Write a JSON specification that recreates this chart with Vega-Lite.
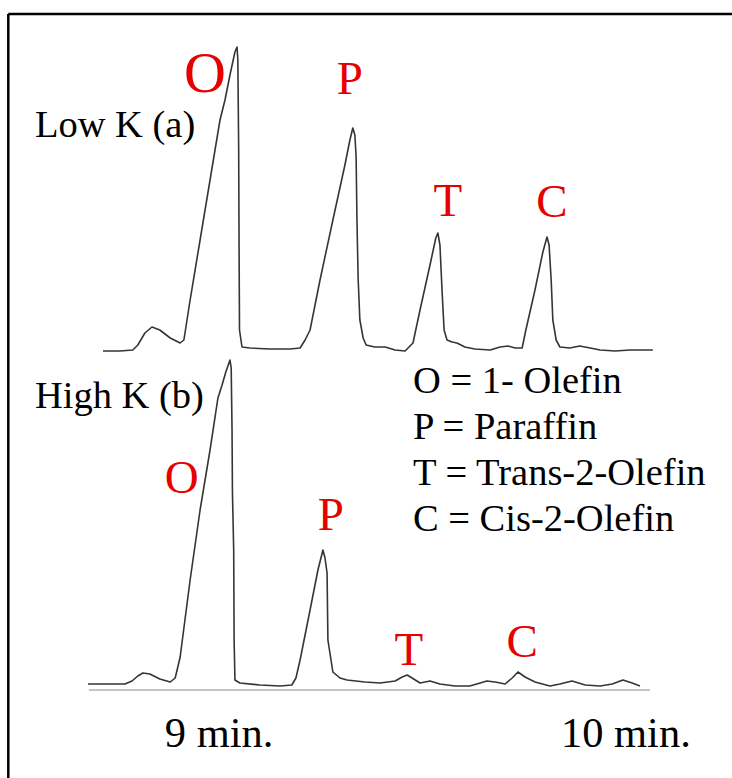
{
  "$schema": "https://vega.github.io/schema/vega-lite/v6.json",
  "width": 732,
  "height": 778,
  "autosize": "none",
  "padding": 0,
  "background": "white",
  "view": {"stroke": null},
  "datasets": {
    "traces": [
      {"run":"a","t":8.718,"v":427},{"run":"a","t":8.759,"v":427},{"run":"a","t":8.790,"v":428},{"run":"a","t":8.802,"v":433},
      {"run":"a","t":8.819,"v":445},{"run":"a","t":8.836,"v":451},{"run":"a","t":8.855,"v":448},{"run":"a","t":8.880,"v":440},
      {"run":"a","t":8.904,"v":435},{"run":"a","t":8.913,"v":438},{"run":"a","t":8.928,"v":478},{"run":"a","t":8.952,"v":538},
      {"run":"a","t":8.976,"v":598},{"run":"a","t":9.000,"v":658},{"run":"a","t":9.012,"v":678},{"run":"a","t":9.024,"v":703},
      {"run":"a","t":9.036,"v":726},{"run":"a","t":9.041,"v":731},{"run":"a","t":9.043,"v":718},{"run":"a","t":9.045,"v":628},
      {"run":"a","t":9.046,"v":528},{"run":"a","t":9.047,"v":448},{"run":"a","t":9.053,"v":431},{"run":"a","t":9.072,"v":430},
      {"run":"a","t":9.120,"v":429},{"run":"a","t":9.169,"v":429},{"run":"a","t":9.193,"v":430},{"run":"a","t":9.205,"v":438},
      {"run":"a","t":9.217,"v":448},{"run":"a","t":9.241,"v":498},{"run":"a","t":9.272,"v":558},{"run":"a","t":9.301,"v":613},
      {"run":"a","t":9.313,"v":638},{"run":"a","t":9.320,"v":650},{"run":"a","t":9.325,"v":643},{"run":"a","t":9.328,"v":621},
      {"run":"a","t":9.330,"v":558},{"run":"a","t":9.333,"v":498},{"run":"a","t":9.337,"v":458},{"run":"a","t":9.345,"v":440},
      {"run":"a","t":9.352,"v":433},{"run":"a","t":9.373,"v":431},{"run":"a","t":9.398,"v":431},{"run":"a","t":9.422,"v":428},
      {"run":"a","t":9.446,"v":427},{"run":"a","t":9.465,"v":435},{"run":"a","t":9.482,"v":468},{"run":"a","t":9.506,"v":513},
      {"run":"a","t":9.520,"v":540},{"run":"a","t":9.525,"v":545},{"run":"a","t":9.530,"v":533},{"run":"a","t":9.535,"v":488},
      {"run":"a","t":9.540,"v":448},{"run":"a","t":9.547,"v":438},{"run":"a","t":9.559,"v":436},{"run":"a","t":9.571,"v":435},
      {"run":"a","t":9.590,"v":431},{"run":"a","t":9.614,"v":429},{"run":"a","t":9.651,"v":428},{"run":"a","t":9.675,"v":431},
      {"run":"a","t":9.694,"v":432},{"run":"a","t":9.711,"v":430},{"run":"a","t":9.728,"v":430},{"run":"a","t":9.737,"v":448},
      {"run":"a","t":9.759,"v":488},{"run":"a","t":9.778,"v":526},{"run":"a","t":9.788,"v":541},{"run":"a","t":9.793,"v":533},
      {"run":"a","t":9.798,"v":498},{"run":"a","t":9.802,"v":458},{"run":"a","t":9.810,"v":438},{"run":"a","t":9.819,"v":431},
      {"run":"a","t":9.843,"v":430},{"run":"a","t":9.867,"v":432},{"run":"a","t":9.892,"v":430},{"run":"a","t":9.916,"v":428},
      {"run":"a","t":9.952,"v":427},{"run":"a","t":9.988,"v":428},{"run":"a","t":10.012,"v":428},{"run":"a","t":10.043,"v":428},

      {"run":"b","t":8.682,"v":94},{"run":"b","t":8.711,"v":94},{"run":"b","t":8.771,"v":94},{"run":"b","t":8.788,"v":97},
      {"run":"b","t":8.802,"v":102},{"run":"b","t":8.814,"v":105},{"run":"b","t":8.831,"v":104},{"run":"b","t":8.855,"v":99},
      {"run":"b","t":8.880,"v":96},{"run":"b","t":8.892,"v":100},{"run":"b","t":8.904,"v":121},{"run":"b","t":8.928,"v":198},
      {"run":"b","t":8.952,"v":268},{"run":"b","t":8.976,"v":328},{"run":"b","t":8.995,"v":380},{"run":"b","t":9.005,"v":393},
      {"run":"b","t":9.014,"v":406},{"run":"b","t":9.024,"v":418},{"run":"b","t":9.027,"v":410},{"run":"b","t":9.029,"v":348},
      {"run":"b","t":9.030,"v":285},{"run":"b","t":9.033,"v":228},{"run":"b","t":9.034,"v":138},{"run":"b","t":9.036,"v":98},
      {"run":"b","t":9.048,"v":95},{"run":"b","t":9.096,"v":93},{"run":"b","t":9.145,"v":92},{"run":"b","t":9.173,"v":93},
      {"run":"b","t":9.183,"v":100},{"run":"b","t":9.193,"v":118},{"run":"b","t":9.217,"v":168},{"run":"b","t":9.236,"v":208},
      {"run":"b","t":9.248,"v":228},{"run":"b","t":9.253,"v":220},{"run":"b","t":9.258,"v":205},{"run":"b","t":9.260,"v":138},
      {"run":"b","t":9.272,"v":106},{"run":"b","t":9.289,"v":100},{"run":"b","t":9.306,"v":98},{"run":"b","t":9.349,"v":96},
      {"run":"b","t":9.386,"v":95},{"run":"b","t":9.422,"v":97},{"run":"b","t":9.439,"v":101},{"run":"b","t":9.451,"v":103},
      {"run":"b","t":9.463,"v":100},{"run":"b","t":9.482,"v":95},{"run":"b","t":9.506,"v":97},{"run":"b","t":9.530,"v":94},
      {"run":"b","t":9.566,"v":92},{"run":"b","t":9.602,"v":92},{"run":"b","t":9.627,"v":95},{"run":"b","t":9.643,"v":97},
      {"run":"b","t":9.663,"v":96},{"run":"b","t":9.687,"v":94},{"run":"b","t":9.704,"v":100},{"run":"b","t":9.718,"v":106},
      {"run":"b","t":9.735,"v":101},{"run":"b","t":9.759,"v":96},{"run":"b","t":9.795,"v":92},{"run":"b","t":9.819,"v":94},
      {"run":"b","t":9.848,"v":97},{"run":"b","t":9.880,"v":93},{"run":"b","t":9.916,"v":92},{"run":"b","t":9.945,"v":94},
      {"run":"b","t":9.971,"v":98},{"run":"b","t":9.993,"v":95},{"run":"b","t":10.012,"v":92}
    ],
    "ticks": [
      {"t":8.7333},{"t":8.8},{"t":8.8667},{"t":8.9333},{"t":9.0},{"t":9.0667},{"t":9.1333},{"t":9.2},{"t":9.2667},{"t":9.3333},
      {"t":9.4},{"t":9.4667},{"t":9.5333},{"t":9.6},{"t":9.6667},{"t":9.7333},{"t":9.8},{"t":9.8667},{"t":9.9333},{"t":10.0}
    ],
    "labels": [
      {"text":"Low K (a)","kind":"run","run":"a","t":8.554,"v":641},
      {"text":"High K (b)","kind":"run","run":"b","t":8.554,"v":370},
      {"text":"O = 1- Olefin","kind":"key","run":"","t":9.465,"v":385},
      {"text":"P = Paraffin","kind":"key","run":"","t":9.465,"v":339},
      {"text":"T = Trans-2-Olefin","kind":"key","run":"","t":9.465,"v":293},
      {"text":"C = Cis-2-Olefin","kind":"key","run":"","t":9.465,"v":247},
      {"text":"9 min.","kind":"time","run":"","t":8.998,"v":31},
      {"text":"10 min.","kind":"time","run":"","t":9.978,"v":31},
      {"text":"O","kind":"peak","run":"a","t":8.964,"v":686},
      {"text":"P","kind":"peak","run":"a","t":9.313,"v":684},
      {"text":"T","kind":"peak","run":"a","t":9.549,"v":562},
      {"text":"C","kind":"peak","run":"a","t":9.800,"v":561},
      {"text":"O","kind":"peak","run":"b","t":8.908,"v":285},
      {"text":"P","kind":"peak","run":"b","t":9.267,"v":248},
      {"text":"T","kind":"peak","run":"b","t":9.455,"v":113},
      {"text":"C","kind":"peak","run":"b","t":9.728,"v":121}
    ]
  },
  "encoding": {
    "x": {"field": "t", "type": "quantitative", "axis": null,
          "scale": {"domain": [8.46988, 10.23373], "nice": false, "zero": false}},
    "y": {"field": "v", "type": "quantitative", "axis": null,
          "scale": {"domain": [0, 778], "nice": false, "zero": false}}
  },
  "layer": [
    {
      "data": {"values": [{"t": 8.4899, "v": 0, "v2": 764}]},
      "mark": {"type": "rule", "color": "black", "strokeWidth": 2.5},
      "encoding": {"y2": {"field": "v2"}}
    },
    {
      "data": {"values": [{"t": 8.4899, "t2": 10.2337, "v": 764}]},
      "mark": {"type": "rule", "color": "black", "strokeWidth": 2.5},
      "encoding": {"x2": {"field": "t2"}}
    },
    {
      "data": {"values": [{"t": 8.684, "t2": 10.036, "v": 88}]},
      "mark": {"type": "rule", "color": "#c4c4c4", "strokeWidth": 2.2},
      "encoding": {"x2": {"field": "t2"}}
    },
    {
      "data": {"name": "ticks"},
      "mark": {"type": "rule", "color": "#9a9a9a", "strokeWidth": 1},
      "encoding": {"y": {"datum": 88}, "y2": {"datum": 84}}
    },
    {
      "data": {"values": [{"t": 10.122, "v": 34}]},
      "mark": {"type": "square", "color": "black", "size": 6, "opacity": 1, "filled": true}
    },
    {
      "data": {"name": "traces"},
      "mark": {"type": "line", "color": "#353535", "strokeWidth": 1.6, "strokeJoin": "round"},
      "encoding": {"detail": {"field": "run"}}
    },
    {
      "data": {"name": "labels"},
      "transform": [{"filter": "datum.kind == 'run' || datum.kind == 'key'"}],
      "mark": {"type": "text", "font": "'Times New Roman', 'Liberation Serif', 'DejaVu Serif', serif", "align": "left", "baseline": "alphabetic", "fontSize": 38.5, "color": "black"},
      "encoding": {"text": {"field": "text"}}
    },
    {
      "data": {"name": "labels"},
      "transform": [{"filter": "datum.kind == 'time'"}],
      "mark": {"type": "text", "font": "'Times New Roman', 'Liberation Serif', 'DejaVu Serif', serif", "align": "center", "baseline": "alphabetic", "fontSize": 42.5, "color": "black"},
      "encoding": {"text": {"field": "text"}}
    },
    {
      "data": {"name": "labels"},
      "transform": [{"filter": "datum.kind == 'peak' && !(datum.text == 'O' && datum.run == 'a')"}],
      "mark": {"type": "text", "font": "'Times New Roman', 'Liberation Serif', 'DejaVu Serif', serif", "align": "center", "baseline": "alphabetic", "fontSize": 47, "color": "#e60000"},
      "encoding": {"text": {"field": "text"}}
    },
    {
      "data": {"name": "labels"},
      "transform": [{"filter": "datum.kind == 'peak' && datum.text == 'O' && datum.run == 'a'"}],
      "mark": {"type": "text", "font": "'Times New Roman', 'Liberation Serif', 'DejaVu Serif', serif", "align": "center", "baseline": "alphabetic", "fontSize": 58, "color": "#e60000"},
      "encoding": {"text": {"field": "text"}}
    }
  ]
}
